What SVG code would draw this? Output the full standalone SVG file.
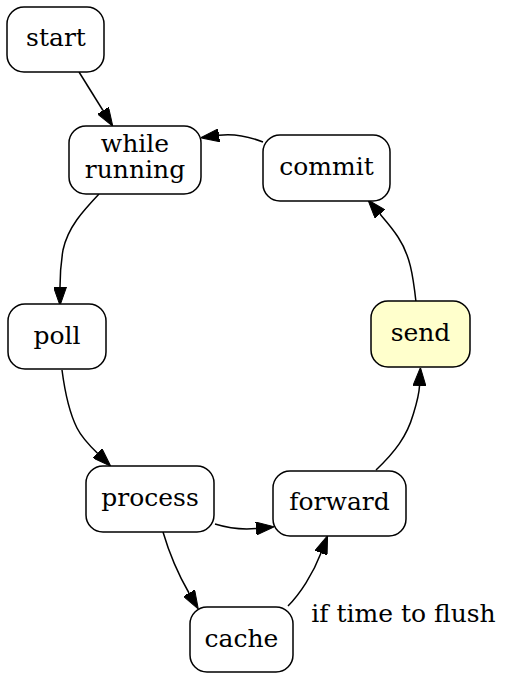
<svg xmlns="http://www.w3.org/2000/svg" width="507" height="680" viewBox="0 0 507 680">
<style>
.n rect{fill:#ffffff;stroke:#000;stroke-width:1.5}
.n.hl rect{fill:#ffffcc}
text{font-family:"DejaVu Serif","Liberation Serif",serif;font-size:25px;fill:#000;text-anchor:middle}
.e path{fill:none;stroke:#000;stroke-width:1.5}
</style>
<defs>
<marker id="ah" viewBox="0 0 18.5 13" refX="0" refY="6.5" markerUnits="userSpaceOnUse" markerWidth="18.5" markerHeight="13" orient="auto">
<path d="M0,0 L18.5,6.5 L0,13 z" fill="#000" stroke="#000" stroke-width="1"/>
</marker>
</defs>
<rect width="507" height="680" fill="#fff"/>
<g class="e">
<path d="M79,72 L103,110.5" marker-end="url(#ah)"/>
<path d="M99,194 C83,211 68,227 63,250 C61,262 60,276 60,287" marker-end="url(#ah)"/>
<path d="M62,370 C65,393 69,412 77,428 C82,438 90,446 97.5,453.3" marker-end="url(#ah)"/>
<path d="M215,524 C228,528 240,530 256,528.5" marker-end="url(#ah)"/>
<path d="M163,532 C168,549 178,574 189,593" marker-end="url(#ah)"/>
<path d="M288,606 C300,594 313,574 321,553" marker-end="url(#ah)"/>
<path d="M376,470 C395,452 407,436 413,415 C417,402 419,396 419.5,386" marker-end="url(#ah)"/>
<path d="M416,302 C413,275 410,255 398,237 C393,229 386,221 380,214" marker-end="url(#ah)"/>
<path d="M263,142 C250,137 236,133 219,135.3" marker-end="url(#ah)"/>
</g>
<g id="start" class="n"><rect x="7" y="7" width="97" height="65" rx="17"/><text x="56" y="46">start</text></g>
<g id="while" class="n"><rect x="69" y="126" width="132" height="68" rx="17"/><text x="135" y="152">while<tspan x="135" dy="25.5">running</tspan></text></g>
<g id="commit" class="n"><rect x="263" y="135" width="127" height="66" rx="17"/><text x="326.5" y="175">commit</text></g>
<g id="poll" class="n"><rect x="8" y="304" width="98" height="65" rx="17"/><text x="57" y="344">poll</text></g>
<g id="send" class="n hl"><rect x="371" y="301" width="99" height="66" rx="17"/><text x="420.5" y="341">send</text></g>
<g id="process" class="n"><rect x="86" y="466" width="128" height="66" rx="17"/><text x="150" y="506">process</text></g>
<g id="forward" class="n"><rect x="273" y="471" width="133" height="65" rx="17"/><text x="339.5" y="510">forward</text></g>
<g id="cache" class="n"><rect x="190" y="607" width="103" height="65" rx="17"/><text x="241.5" y="647">cache</text></g>
<text x="403.5" y="621.5" id="lbl">if time to flush</text>
</svg>
